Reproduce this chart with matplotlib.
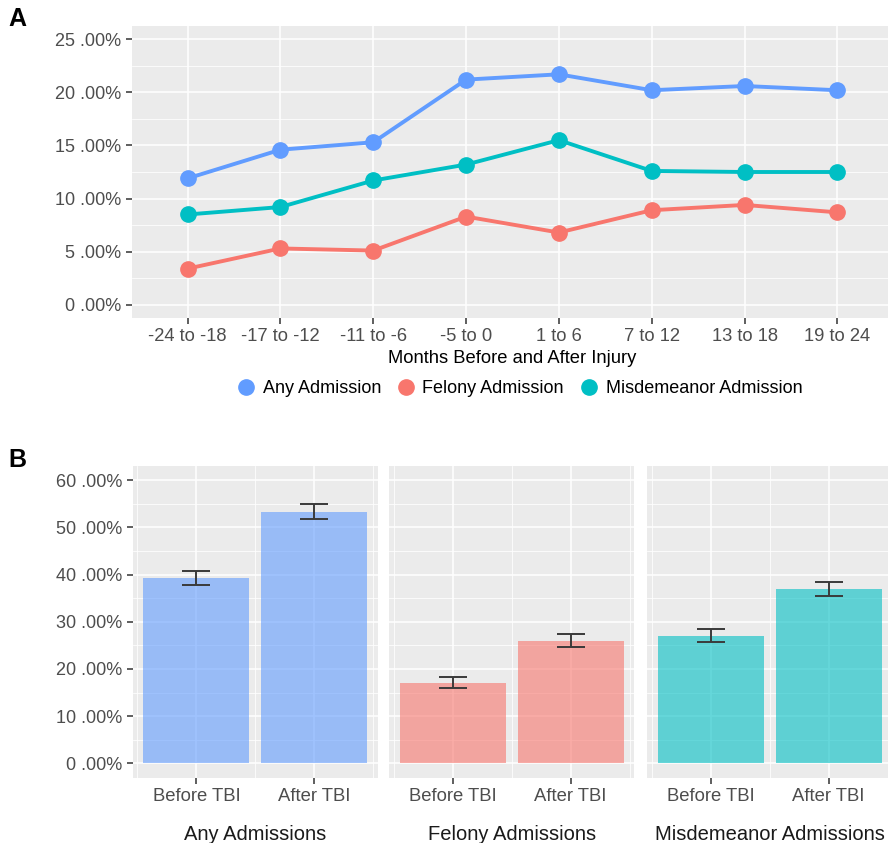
import matplotlib
matplotlib.use("Agg")
import matplotlib.pyplot as plt
from matplotlib.lines import Line2D
from matplotlib.ticker import FixedLocator, FuncFormatter, MultipleLocator

plt.rcParams['font.family'] = ['Liberation Sans', 'DejaVu Sans']

# ---------------- data ----------------
periods_a = ["-24 to -18", "-17 to -12", "-11 to -6", "-5 to 0",
             "1 to 6", "7 to 12", "13 to 18", "19 to 24"]
any_adm = [11.9, 14.6, 15.3, 21.2, 21.7, 20.2, 20.6, 20.2]
felony_adm = [3.4, 5.3, 5.1, 8.3, 6.8, 8.9, 9.4, 8.7]
misd_adm = [8.5, 9.2, 11.7, 13.2, 15.5, 12.6, 12.5, 12.5]
series_names = ["Any Admission", "Felony Admission", "Misdemeanor Admission"]

groups_b = ["Any Admissions", "Felony Admissions", "Misdemeanor Admissions"]
periods_b = ["Before TBI", "After TBI"]
before_val = [39.3, 17.0, 27.0]
before_lo = [37.8, 15.9, 25.8]
before_hi = [40.8, 18.2, 28.45]
after_val = [53.2, 25.9, 36.9]
after_lo = [51.7, 24.6, 35.5]
after_hi = [54.9, 27.4, 38.4]

colors = ["#619CFF", "#F8766D", "#00BFC4"]

W, H = 888, 843
fig = plt.figure(figsize=(W / 100, H / 100), dpi=100)

def px_axes(left, top, right, bottom):
    return fig.add_axes([left / W, (H - bottom) / H, (right - left) / W, (bottom - top) / H])

def style(ax):
    ax.set_facecolor("#EBEBEB")
    for s in ax.spines.values():
        s.set_visible(False)
    ax.grid(which="major", color="white", lw=1.1)
    ax.grid(which="minor", color="white", lw=0.55)
    ax.set_axisbelow(True)
    ax.tick_params(which="major", length=4, width=1.1, color="#333333", labelcolor="#4D4D4D")
    ax.tick_params(which="minor", length=0)

pct = FuncFormatter(lambda v, p: f"{int(round(v))} .00%")

# ---------------- Panel A ----------------
axA = px_axes(132, 26, 893, 318)
style(axA)
x = list(range(len(periods_a)))
for vals, c in zip([any_adm, felony_adm, misd_adm], colors):
    axA.plot(x, vals, color=c, lw=2.8, marker="o", ms=11, zorder=3)
axA.set_xlim(-0.6, 7.6)
axA.set_ylim(-1.25, 26.25)
axA.set_xticks(x)
axA.set_xticklabels(periods_a, fontsize=13.2)
axA.yaxis.set_major_locator(MultipleLocator(5))
axA.yaxis.set_minor_locator(FixedLocator([2.5, 7.5, 12.5, 17.5, 22.5]))
axA.yaxis.set_major_formatter(pct)
axA.tick_params(axis="y", labelsize=13)
axA.grid(which="minor", axis="x", visible=False)
axA.set_xlabel("Months Before and After Injury", fontsize=13.2, labelpad=3)

handles = [Line2D([], [], color=c, marker="o", ls="none", ms=11) for c in colors]
fig.legend(handles, series_names, loc="center", bbox_to_anchor=(517 / W, 1 - 389 / H),
           ncol=3, frameon=False, fontsize=13, handletextpad=0.1, columnspacing=0.6,
           handlelength=1.6)

fig.text(8 / W, 1 - 19 / H, "A", fontsize=18, fontweight="bold", va="center", ha="left")
fig.text(8 / W, 1 - 460 / H, "B", fontsize=18, fontweight="bold", va="center", ha="left")

# ---------------- Panel B ----------------
lefts = [132.7, 389, 647]
pw = 245.3
for i, g in enumerate(groups_b):
    ax = px_axes(lefts[i], 466, lefts[i] + pw, 778)
    style(ax)
    xb = [0, 1]
    vals = [before_val[i], after_val[i]]
    ax.bar(xb, vals, width=0.9, color=colors[i], alpha=0.6, zorder=2)
    lo = [before_lo[i], after_lo[i]]
    hi = [before_hi[i], after_hi[i]]
    yerr = [[v - l for v, l in zip(vals, lo)], [h - v for v, h in zip(vals, hi)]]
    ax.errorbar(xb, vals, yerr=yerr, fmt="none", ecolor="#3A3A3A", elinewidth=1.4,
                capsize=10, capthick=1.4, zorder=3)
    ax.set_xlim(-0.54, 1.54)
    ax.set_ylim(-3.1, 63)
    ax.set_xticks(xb)
    ax.set_xticklabels(periods_b, fontsize=13.3)
    ax.xaxis.set_minor_locator(FixedLocator([-0.5, 0.5, 1.5]))
    ax.yaxis.set_major_locator(MultipleLocator(10))
    ax.yaxis.set_minor_locator(FixedLocator([5, 15, 25, 35, 45, 55]))
    if i == 0:
        ax.yaxis.set_major_formatter(pct)
        ax.tick_params(axis="y", labelsize=13)
    else:
        ax.tick_params(axis="y", labelleft=False, length=0)
    ax.set_xlabel(g, fontsize=14.5, labelpad=14, color="#1A1A1A")

fig.savefig("out.png", dpi=100)
